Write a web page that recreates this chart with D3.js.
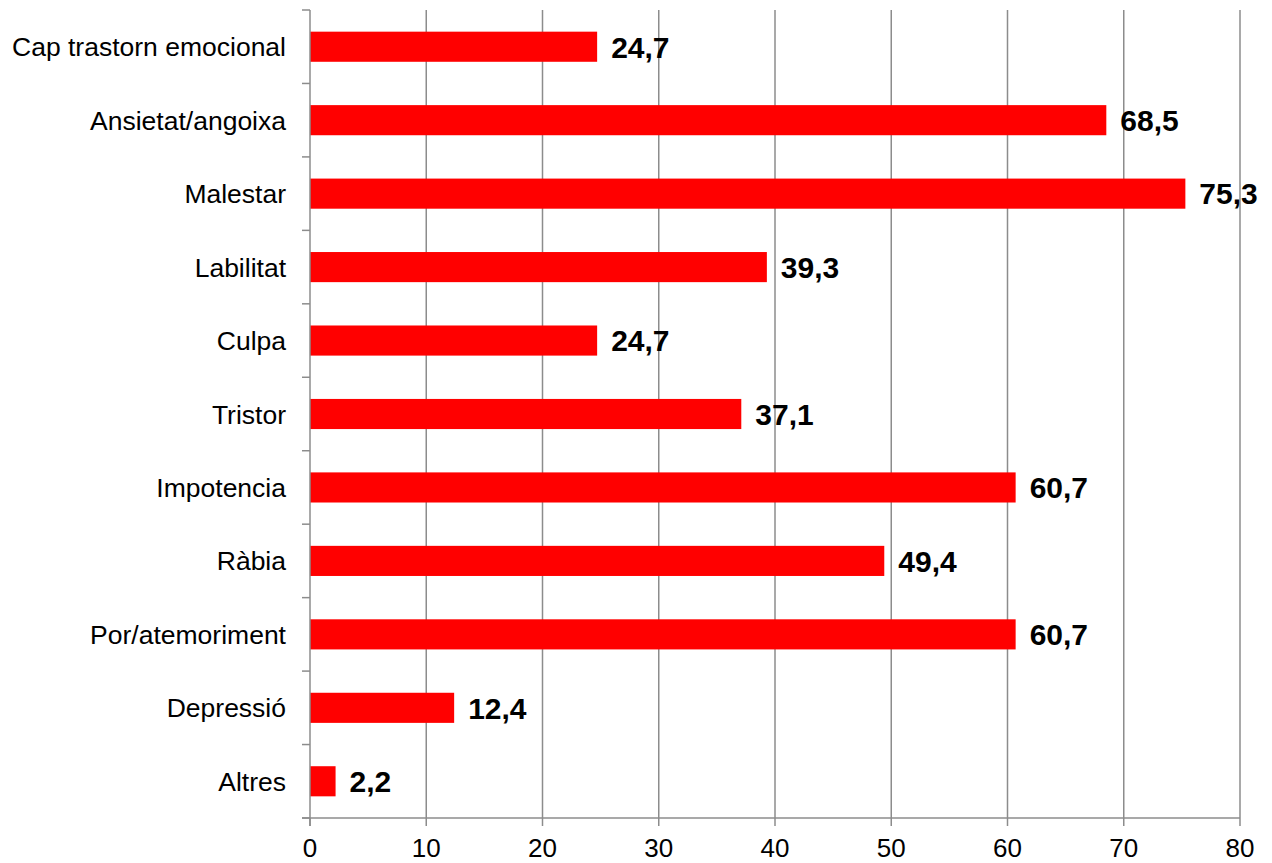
<!DOCTYPE html>
<html>
<head>
<meta charset="utf-8">
<script src="https://cdn.jsdelivr.net/npm/d3@7"></script>
<style>
  body { margin: 0; background: #fff; }
  text { font-family: Arial, "Liberation Sans", sans-serif; }
</style>
</head>
<body>
<svg id="chart" width="1272" height="863"></svg>
<script>
const categories = ['Cap trastorn emocional', 'Ansietat/angoixa', 'Malestar', 'Labilitat', 'Culpa',
  'Tristor', 'Impotencia', 'Ràbia', 'Por/atemoriment', 'Depressió ', 'Altres']
const values = [24.7, 68.5, 75.3, 39.3, 24.7, 37.1, 60.7, 49.4, 60.7, 12.4, 2.2]
const xTicks = [0, 10, 20, 30, 40, 50, 60, 70, 80]

const svg = d3.select('#chart')
const plotLeft = 310, plotRight = 1240, plotTop = 10, plotBottom = 818

const x = d3.scaleLinear().domain([0, 80]).range([plotLeft, plotRight])
const y = d3.scaleBand().domain(categories).range([plotTop, plotBottom]).paddingInner(0.59).paddingOuter(0.295)
const yEdges = d3.scaleLinear().domain([0, categories.length]).range([plotTop, plotBottom])

// gridlines
svg.append('g')
  .selectAll('line')
  .data(xTicks.slice(1))
  .join('line')
    .attr('x1', d => x(d)).attr('x2', d => x(d))
    .attr('y1', plotTop).attr('y2', plotBottom)
    .attr('stroke', '#8c8c8c').attr('stroke-width', 1.5)

// bars
svg.append('g')
  .selectAll('rect')
  .data(values)
  .join('rect')
    .attr('x', x(0))
    .attr('y', (d, i) => y(categories[i]))
    .attr('width', d => x(d) - x(0))
    .attr('height', y.bandwidth())
    .attr('fill', '#ff0000')

// value labels
svg.append('g')
  .selectAll('text')
  .data(values)
  .join('text')
    .attr('x', d => x(d) + 14)
    .attr('y', (d, i) => y(categories[i]) + y.bandwidth() / 2)
    .attr('dy', '0.36em')
    .attr('font-size', 30)
    .attr('font-weight', 'bold')
    .attr('fill', '#000')
    .text(d => d3.format('.1f')(d).replace('.', ','))

// y axis line + tick marks at band edges
const yAxis = svg.append('g').attr('stroke', '#8c8c8c').attr('stroke-width', 1.5)
yAxis.append('line').attr('x1', plotLeft).attr('x2', plotLeft).attr('y1', plotTop).attr('y2', plotBottom + 8)
yAxis.selectAll('line.tk')
  .data(d3.range(categories.length + 1))
  .join('line').attr('class', 'tk')
    .attr('x1', plotLeft - 8).attr('x2', plotLeft)
    .attr('y1', d => yEdges(d)).attr('y2', d => yEdges(d))

// category labels
svg.append('g')
  .selectAll('text')
  .data(categories)
  .join('text')
    .attr('x', plotLeft - 24)
    .attr('y', d => y(d) + y.bandwidth() / 2)
    .attr('dy', '0.36em')
    .attr('text-anchor', 'end')
    .attr('font-size', 26.5)
    .attr('fill', '#000')
    .text(d => d)

// x axis
const xAxis = svg.append('g').attr('stroke', '#8c8c8c').attr('stroke-width', 1.5)
xAxis.append('line').attr('x1', plotLeft - 8).attr('x2', plotRight).attr('y1', plotBottom).attr('y2', plotBottom)
xAxis.selectAll('line.tk')
  .data(xTicks)
  .join('line').attr('class', 'tk')
    .attr('x1', d => x(d)).attr('x2', d => x(d))
    .attr('y1', plotBottom).attr('y2', plotBottom + 8)

svg.append('g')
  .selectAll('text')
  .data(xTicks)
  .join('text')
    .attr('x', d => x(d))
    .attr('y', 857)
    .attr('text-anchor', 'middle')
    .attr('font-size', 26)
    .attr('fill', '#000')
    .text(d => d)
</script>
</body>
</html>
